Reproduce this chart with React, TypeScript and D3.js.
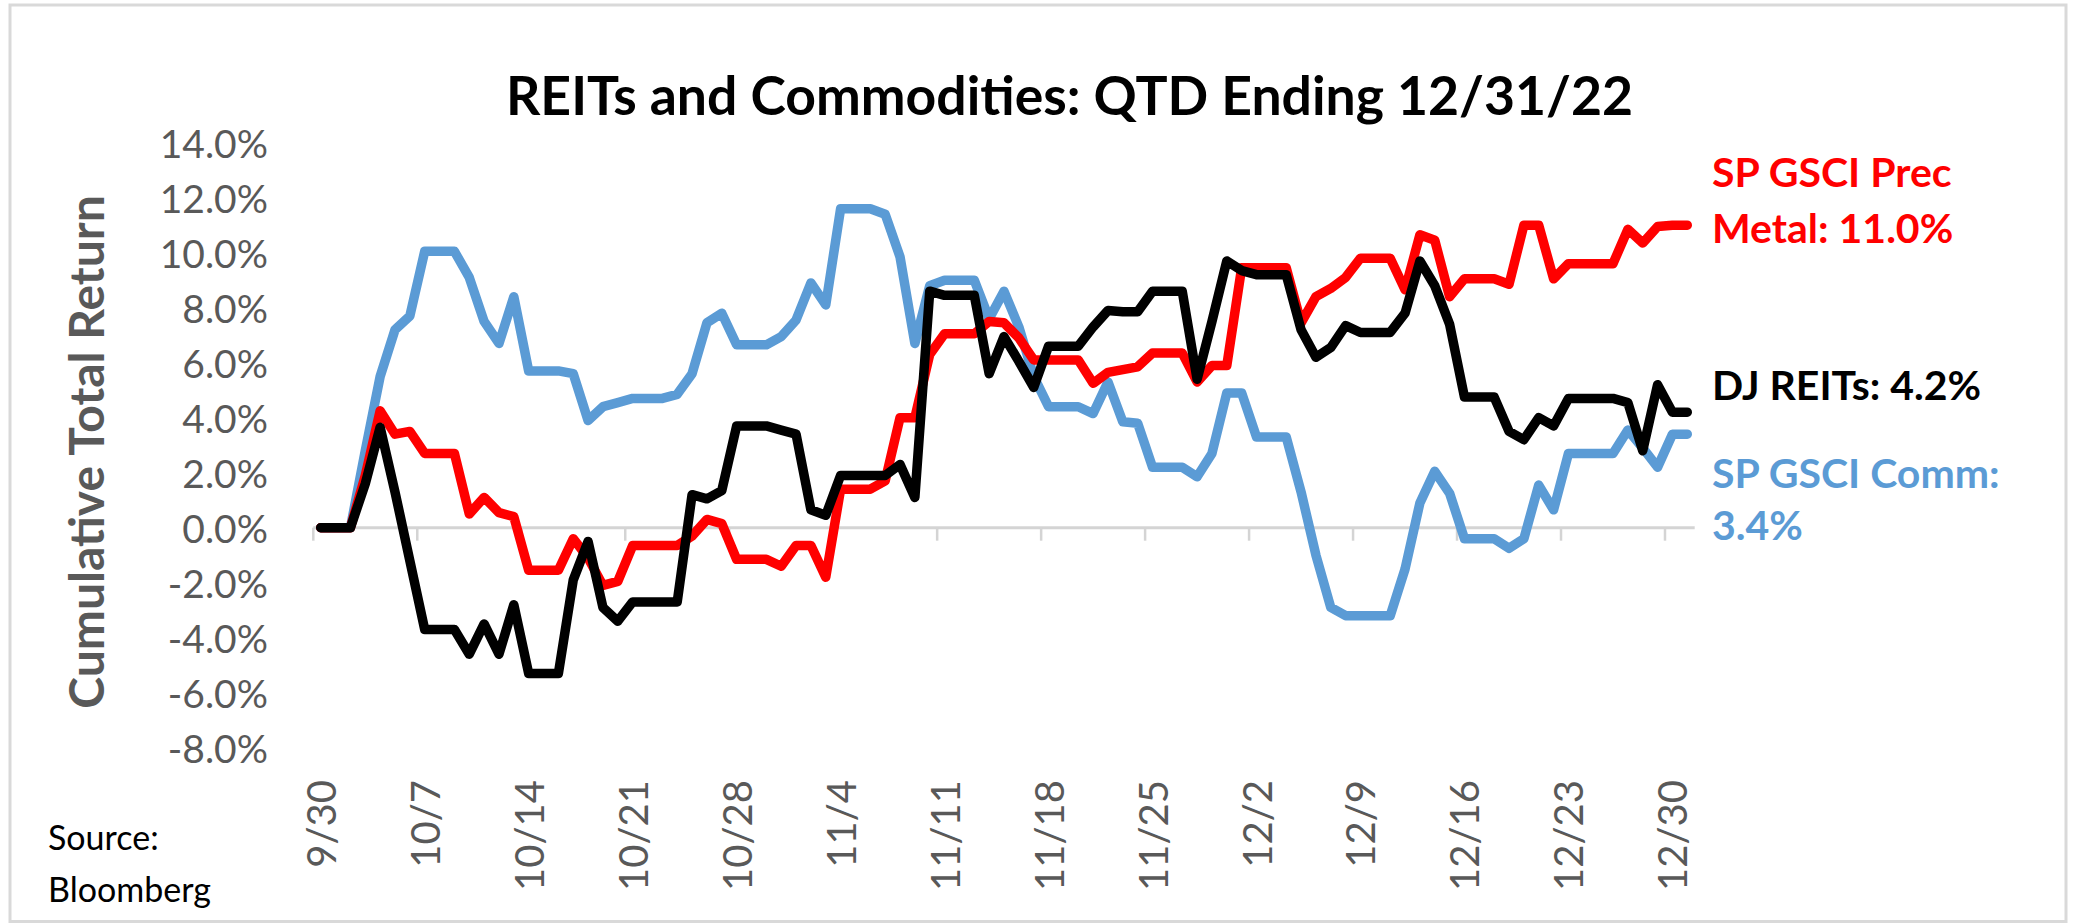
import React from "react";
import * as d3 from "d3";

// ---- Data (cumulative total return, %, daily incl. weekends, 9/30/22 .. 12/31/22) ----
const reits: number[] = [
  0, 0, 0, 1.6, 3.65, 1.3, -1.2, -3.7, -3.7, -3.7,
  -4.6, -3.5, -4.6, -2.8, -5.3, -5.3, -5.3, -1.9, -0.5, -2.9,
  -3.4, -2.7, -2.7, -2.7, -2.7, 1.2, 1.05, 1.35, 3.7, 3.7,
  3.7, 3.55, 3.4, 0.65, 0.45, 1.9, 1.9, 1.9, 1.9, 2.3,
  1.1, 8.6, 8.45, 8.45, 8.45, 5.6, 6.95, 6.05, 5.1, 6.6,
  6.6, 6.6, 7.3, 7.9, 7.85, 7.85, 8.6, 8.6, 8.6, 5.4,
  7.5, 9.7, 9.35, 9.2, 9.2, 9.2, 7.2, 6.2, 6.55, 7.35,
  7.1, 7.1, 7.1, 7.8, 9.7, 8.8, 7.4, 4.75, 4.75, 4.75,
  3.5, 3.2, 4.0, 3.7, 4.7, 4.7, 4.7, 4.7, 4.55, 2.8,
  5.2, 4.2, 4.2,
];

const precMetals: number[] = [
  0, 0, 0, 1.9, 4.25, 3.4, 3.5, 2.7, 2.7, 2.7,
  0.5, 1.1, 0.55, 0.4, -1.55, -1.55, -1.55, -0.4, -1.1, -2.1,
  -1.95, -0.65, -0.65, -0.65, -0.65, -0.3, 0.3, 0.15, -1.15, -1.15,
  -1.15, -1.4, -0.65, -0.65, -1.8, 1.4, 1.4, 1.4, 1.7, 4.0,
  4.0, 6.3, 7.05, 7.05, 7.05, 7.5, 7.45, 6.9, 6.1, 6.1,
  6.1, 6.1, 5.25, 5.65, 5.75, 5.85, 6.35, 6.35, 6.35, 5.3,
  5.9, 5.9, 9.45, 9.45, 9.45, 9.45, 7.45, 8.4, 8.7, 9.1,
  9.8, 9.8, 9.8, 8.65, 10.65, 10.45, 8.4, 9.05, 9.05, 9.05,
  8.85, 11.0, 11.0, 9.05, 9.6, 9.6, 9.6, 9.6, 10.85, 10.35,
  10.95, 11.0, 11.0,
];

const commodities: number[] = [
  0, 0, 0, 2.8, 5.5, 7.2, 7.7, 10.05, 10.05, 10.05,
  9.1, 7.5, 6.7, 8.4, 5.7, 5.7, 5.7, 5.6, 3.9, 4.4,
  4.55, 4.7, 4.7, 4.7, 4.85, 5.6, 7.45, 7.8, 6.65, 6.65,
  6.65, 6.95, 7.55, 8.9, 8.1, 11.6, 11.6, 11.6, 11.4, 9.85,
  6.7, 8.8, 9.0, 9.0, 9.0, 7.6, 8.6, 7.3, 5.5, 4.4,
  4.4, 4.4, 4.15, 5.3, 3.85, 3.8, 2.2, 2.2, 2.2, 1.85,
  2.7, 4.9, 4.9, 3.3, 3.3, 3.3, 1.3, -1.0, -2.9, -3.2,
  -3.2, -3.2, -3.2, -1.5, 0.9, 2.05, 1.25, -0.4, -0.4, -0.4,
  -0.75, -0.4, 1.55, 0.65, 2.7, 2.7, 2.7, 2.7, 3.55, 2.9,
  2.2, 3.4, 3.4,
];

const tickLabels: string[] = [
  "9/30", "10/7", "10/14", "10/21", "10/28", "11/4", "11/11",
  "11/18", "11/25", "12/2", "12/9", "12/16", "12/23", "12/30",
];

const yTicks: number[] = [-8, -6, -4, -2, 0, 2, 4, 6, 8, 10, 12, 14];

const title = "REITs and Commodities: QTD Ending 12/31/22";
const yTitle = "Cumulative Total Return";

const W = 2074;
const H = 923;
const FONT = "Lato, 'Open Sans', sans-serif";
const GRAY_TEXT = "#595959";
const AXIS_GRAY = "#d4d4d4";
const BLUE = "#5b9bd5";
const RED = "#ff0000";
const BLACK = "#000000";

const startDate = new Date(Date.UTC(2022, 8, 30));
const endDate = new Date(Date.UTC(2023, 0, 1));
const dates = d3.utcDay.range(startDate, d3.utcDay.offset(startDate, reits.length));
const mid = (d: Date) => d3.utcHour.offset(d, 12);
const parseLabel = (s: string) => {
  const [m, d] = s.split("/").map(Number);
  return new Date(Date.UTC(2022, m - 1, d));
};

export default function App() {
  const x = d3.scaleUtc().domain([startDate, endDate]).range([313.3, 1694.7]);
  const y = d3.scaleLinear().domain([-8, 14]).range([747.7, 142.7]);

  const line = d3
    .line<number>()
    .x((_, i) => x(mid(dates[i])))
    .y((v) => y(v));

  const series = [
    { key: "comm", values: commodities, color: BLUE },
    { key: "prec", values: precMetals, color: RED },
    { key: "reits", values: reits, color: BLACK },
  ];

  const y0 = y(0);

  return (
    <svg
      width={W}
      height={H}
      viewBox={`0 0 ${W} ${H}`}
      style={{ position: "absolute", left: 0, top: 0, display: "block", background: "#fff" }}
    >
      <rect x={0} y={0} width={W} height={H} fill="#fff" />
      <rect x={10} y={5} width={2056} height={916.5} fill="none" stroke="#d9d9d9" strokeWidth={3} />

      {/* Title */}
      <text
        x={1069.5}
        y={115}
        textAnchor="middle"
        fontFamily={FONT}
        fontWeight={700}
        fontSize={53.5}
        fill="#000"
      >
        {title}
      </text>

      {/* Y axis title */}
      <text
        transform={`translate(85,452) rotate(-90)`}
        textAnchor="middle"
        dominantBaseline="central"
        fontFamily={FONT}
        fontWeight={700}
        fontSize={48}
        fill={GRAY_TEXT}
      >
        {yTitle}
      </text>

      {/* Y tick labels */}
      {yTicks.map((t) => (
        <text
          key={t}
          x={268}
          y={y(t)}
          textAnchor="end"
          dominantBaseline="central"
          fontFamily={FONT}
          fontSize={39}
          fill={GRAY_TEXT}
        >
          {t.toFixed(1) + "%"}
        </text>
      ))}

      {/* X axis line at zero with tick marks */}
      <line x1={x(startDate)} x2={x(endDate)} y1={y0} y2={y0} stroke={AXIS_GRAY} strokeWidth={3} />
      {tickLabels.map((lab) => {
        const d = parseLabel(lab);
        return (
          <line key={"t" + lab} x1={x(d)} x2={x(d)} y1={y0} y2={y0 + 13} stroke={AXIS_GRAY} strokeWidth={2.5} />
        );
      })}

      {/* X tick labels */}
      {tickLabels.map((lab) => {
        const d = parseLabel(lab);
        const cx = x(mid(d));
        return (
          <text
            key={"l" + lab}
            transform={`translate(${cx},780) rotate(-90)`}
            textAnchor="end"
            dominantBaseline="central"
            fontFamily={FONT}
            fontSize={40}
            fill={GRAY_TEXT}
          >
            {lab}
          </text>
        );
      })}

      {/* Series */}
      {series.map((s) => (
        <path
          key={s.key}
          d={line(s.values) || ""}
          fill="none"
          stroke={s.color}
          strokeWidth={9.5}
          strokeLinejoin="round"
          strokeLinecap="round"
        />
      ))}

      {/* End labels */}
      <g fontFamily={FONT} fontWeight={700} fontSize={41}>
        <text x={1712} y={186.7} fill={RED}>SP GSCI Prec</text>
        <text x={1712} y={243.3} fill={RED}>Metal: 11.0%</text>
        <text x={1712} y={400} fill={BLACK}>DJ REITs: 4.2%</text>
        <text x={1712} y={488.3} fill={BLUE}>SP GSCI Comm:</text>
        <text x={1712} y={540} fill={BLUE}>3.4%</text>
      </g>

      {/* Source */}
      <g fontFamily={FONT} fontSize={34} fill="#000">
        <text x={48} y={850}>Source:</text>
        <text x={48} y={901.7}>Bloomberg</text>
      </g>
    </svg>
  );
}
